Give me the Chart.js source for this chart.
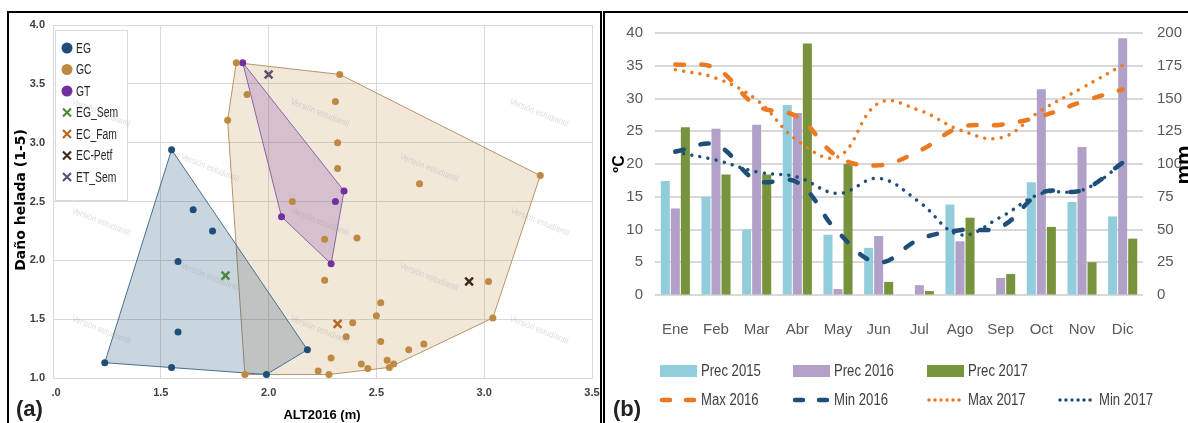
<!DOCTYPE html>
<html>
<head>
<meta charset="utf-8">
<script src="https://cdn.jsdelivr.net/npm/chart.js@4.4.1/dist/chart.umd.min.js"></script>
<style>
  html, body { margin: 0; padding: 0; background: #fff; }
  body { width: 1188px; height: 423px; overflow: hidden; position: relative; }
  .panel { position: absolute; top: 11px; border: 2px solid #000; border-bottom: none; background: #fff; }
  #panelA { left: 7px; width: 591px; height: 410px; }
  #panelB { left: 603px; width: 583px; height: 410px; border-right: none; }
  canvas { display: block; }
</style>
</head>
<body>
<div class="panel" id="panelA"><canvas id="chartA" width="591" height="410"></canvas></div>
<div class="panel" id="panelB"><canvas id="chartB" width="583" height="410"></canvas></div>
<script>
// ---- panel (a) data ----
const egX = [1.24, 1.55, 1.65, 1.74, 1.58, 1.58, 1.55, 1.99, 2.18];
const egY = [1.13, 2.94, 2.43, 2.25, 1.99, 1.39, 1.09, 1.03, 1.24];

const gcX = [1.85, 1.90, 1.81, 2.11, 2.33, 2.31, 2.32, 2.32, 2.70, 3.26, 1.89, 2.26, 2.41, 2.26, 2.52, 2.50,
             2.39, 2.36, 2.52, 2.65, 2.72, 2.29, 2.55, 2.58, 2.56, 2.43, 2.46, 2.23, 2.28, 3.02, 3.04];
const gcY = [3.68, 3.41, 3.19, 2.50, 3.58, 3.35, 3.00, 2.78, 2.65, 2.72, 1.03, 2.18, 2.19, 1.83, 1.64, 1.53,
             1.47, 1.35, 1.31, 1.24, 1.29, 1.17, 1.15, 1.12, 1.09, 1.12, 1.08, 1.06, 1.03, 1.82, 1.51];

const gtX = [1.88, 2.35, 2.31, 2.06, 2.29];
const gtY = [3.68, 2.59, 2.50, 2.37, 1.97];

const crossLabels = ["EG_Sem", "EC_Fam", "EC-Petf", "ET_Sem"];
const crossX = [1.80, 2.32, 2.93, 2.00];
const crossY = [1.87, 1.46, 1.82, 3.58];

const xTicksA = [1.0, 1.5, 2.0, 2.5, 3.0, 3.5];
const yTicksA = [1.0, 1.5, 2.0, 2.5, 3.0, 3.5, 4.0];

// ---- panel (b) data ----
const months = ["Ene", "Feb", "Mar", "Abr", "May", "Jun", "Jul", "Ago", "Sep", "Oct", "Nov", "Dic"];
const prec2015 = [87, 75, 50, 145, 46, 36, 0, 69, 0, 86, 71, 60];
const prec2016 = [66, 127, 130, 139, 4.5, 45, 7.5, 41, 13, 157, 113, 196];
const prec2017 = [128, 92, 92, 192, 100, 10, 3, 59, 16, 52, 25, 43];
const max2016 = [35.2, 34.6, 28.9, 27.2, 21.1, 19.8, 22, 25.6, 26, 27.3, 29.5, 31.4];
const min2016 = [21.9, 22.9, 17.5, 17.2, 9.6, 5.0, 8.5, 9.9, 10.4, 15.6, 16, 20.2];
const max2017 = [34.4, 33.1, 29.8, 23.6, 21.1, 29.3, 28.2, 25.2, 24.0, 28.2, 31.6, 35.1];
const min2017 = [21.8, 20.6, 18.8, 18.0, 15.5, 17.8, 14.2, 9.2, 11.9, 15.5, 16, 20.0];

const FONT = "'Liberation Sans', Arial, sans-serif";
Chart.defaults.font.family = FONT;
Chart.defaults.animation = false;

function toPts(xs, ys) {
  return xs.map((x, i) => ({ x: x, y: ys[i] }));
}

// monotone chain, returns closed ring
function convexHull(pts) {
  const p = pts.slice().sort((a, b) => a.x - b.x || a.y - b.y);
  const cross = (o, a, b) => (a.x - o.x) * (b.y - o.y) - (a.y - o.y) * (b.x - o.x);
  const lower = [];
  for (const q of p) {
    while (lower.length >= 2 && cross(lower[lower.length - 2], lower[lower.length - 1], q) <= 0) lower.pop();
    lower.push(q);
  }
  const upper = [];
  for (const q of p.slice().reverse()) {
    while (upper.length >= 2 && cross(upper[upper.length - 2], upper[upper.length - 1], q) <= 0) upper.pop();
    upper.push(q);
  }
  lower.pop();
  upper.pop();
  const h = lower.concat(upper);
  h.push(h[0]);
  return h;
}

// narrow-looking text (the source uses a condensed font)
function narrowText(ctx, text, x, y, sx) {
  ctx.save();
  ctx.translate(x, y);
  ctx.scale(sx, 1);
  ctx.fillText(text, 0, 0);
  ctx.restore();
}

const groups = [
  { label: "EG", pts: toPts(egX, egY), color: "#1F4E79", line: "#47708f", fill: "rgba(31,78,121,0.24)" },
  { label: "GC", pts: toPts(gcX, gcY), color: "#BE8A42", line: "#b89368", fill: "rgba(192,138,64,0.2)" },
  { label: "GT", pts: toPts(gtX, gtY), color: "#7030A0", line: "#8a62a6", fill: "rgba(112,48,160,0.22)" }
];
const crossColors = ["#4E8A3E", "#B8651F", "#3D2B1F", "#5E4F73"];

const datasetsA = [];
crossLabels.forEach((lab, i) => {
  datasetsA.push({
    label: lab,
    data: [{ x: crossX[i], y: crossY[i] }],
    pointStyle: "crossRot",
    pointRadius: 5.5,
    borderColor: crossColors[i],
    backgroundColor: crossColors[i],
    borderWidth: 2.5
  });
});
groups.forEach((g) => {
  datasetsA.push({
    label: g.label,
    data: g.pts,
    pointStyle: "circle",
    pointRadius: 3.5,
    backgroundColor: g.color,
    borderColor: g.color,
    borderWidth: 0
  });
});
// hulls: GT on top, GC at the bottom
[groups[2], groups[0], groups[1]].forEach((g) => {
  datasetsA.push({
    label: g.label + " hull",
    data: convexHull(g.pts),
    showLine: true,
    fill: "shape",
    pointRadius: 0,
    borderColor: g.line,
    borderWidth: 1,
    backgroundColor: g.fill
  });
});

const panelADecor = {
  id: "panelADecor",
  afterDraw(chart) {
    const ctx = chart.ctx;
    ctx.save();

    // legend box
    ctx.fillStyle = "#fff";
    ctx.fillRect(46, 17, 72, 170);
    ctx.strokeStyle = "#d9d9d9";
    ctx.lineWidth = 1;
    ctx.strokeRect(46.5, 17.5, 72, 170);
    const order = ["EG", "GC", "GT"].concat(crossLabels);
    ctx.font = "14px " + FONT;
    ctx.textBaseline = "middle";
    order.forEach((lab, i) => {
      const y = 35 + i * 21.5;
      const ds = chart.data.datasets.find((d) => d.label === lab);
      if (ds.pointStyle === "circle") {
        ctx.fillStyle = ds.backgroundColor;
        ctx.beginPath();
        ctx.arc(58, y, 5.5, 0, Math.PI * 2);
        ctx.fill();
      } else {
        ctx.strokeStyle = ds.borderColor;
        ctx.lineWidth = 2.2;
        ctx.beginPath();
        ctx.moveTo(54, y - 4); ctx.lineTo(62, y + 4);
        ctx.moveTo(62, y - 4); ctx.lineTo(54, y + 4);
        ctx.stroke();
      }
      ctx.fillStyle = "#262626";
      narrowText(ctx, lab, 67, y + 1, 0.74);
    });

    // watermarks
    ctx.fillStyle = "rgba(150,150,150,0.32)";
    ctx.font = "9px " + FONT;
    ctx.textAlign = "center";
    const marks = [[92, 100], [311, 100], [530, 100], [201, 155], [420, 155], [92, 209], [311, 209], [531, 209],
                   [201, 264], [420, 264], [92, 317], [311, 317], [530, 317]];
    marks.forEach((m) => {
      ctx.save();
      ctx.translate(m[0], m[1]);
      ctx.rotate(0.38);
      ctx.scale(0.85, 1);
      ctx.fillText("Versión estudiantil", 0, 0);
      ctx.restore();
    });

    // axis titles
    ctx.fillStyle = "#000";
    ctx.font = "bold 14px 'DejaVu Sans', sans-serif";
    ctx.textBaseline = "alphabetic";
    ctx.save();
    ctx.translate(16, 187);
    ctx.rotate(-Math.PI / 2);
    ctx.fillText("Daño helada (1-5)", 0, 0);
    ctx.restore();
    ctx.font = "bold 13px " + FONT;
    ctx.fillText("ALT2016 (m)", 313, 406);

    // (a) label
    ctx.fillStyle = "#fff";
    ctx.fillRect(0, 372, 42, 38);
    ctx.fillStyle = "#222";
    ctx.font = "bold 22px " + FONT;
    ctx.textAlign = "left";
    ctx.fillText("(a)", 7, 403);
    ctx.restore();
  }
};

new Chart(document.getElementById("chartA"), {
  type: "scatter",
  data: { datasets: datasetsA },
  options: {
    responsive: false,
    animation: false,
    layout: { padding: { top: 12, right: 8, left: 0, bottom: 0 } },
    plugins: { legend: { display: false }, tooltip: { enabled: false } },
    scales: {
      x: {
        type: "linear",
        min: xTicksA[0],
        max: xTicksA[xTicksA.length - 1],
        afterBuildTicks: (s) => { s.ticks = xTicksA.map((v) => ({ value: v })); },
        ticks: { callback: (v) => v.toFixed(1), font: { size: 11, weight: "bold" }, color: "#404040", padding: 8 },
        grid: { color: "#d9d9d9", drawTicks: false },
        border: { color: "#d9d9d9" },
        afterFit: (s) => { s.height = 45; s.paddingLeft = 0; s.paddingRight = 0; }
      },
      y: {
        type: "linear",
        min: yTicksA[0],
        max: yTicksA[yTicksA.length - 1],
        afterBuildTicks: (s) => { s.ticks = yTicksA.map((v) => ({ value: v })); },
        ticks: { callback: (v) => v.toFixed(1), font: { size: 11, weight: "bold" }, color: "#404040", padding: 8 },
        grid: { color: "#d9d9d9", drawTicks: false },
        border: { color: "#d9d9d9" },
        afterFit: (s) => { s.width = 44; s.paddingTop = 0; s.paddingBottom = 0; }
      }
    }
  },
  plugins: [panelADecor]
});

// ---- panel (b) ----
const ORANGE = "#EC7A22";
const NAVY = "#1F4E79";

const panelBDecor = {
  id: "panelBDecor",
  afterDraw(chart) {
    const ctx = chart.ctx;
    ctx.save();
    ctx.fillStyle = "#000";
    ctx.font = "bold 16px " + FONT;
    ctx.textAlign = "center";
    ctx.save();
    ctx.translate(19, 151);
    ctx.rotate(-Math.PI / 2);
    ctx.fillText("ºC", 0, 0);
    ctx.restore();
    ctx.save();
    ctx.font = "bold 22px " + FONT;
    ctx.translate(586, 152);
    ctx.rotate(-Math.PI / 2);
    ctx.fillText("mm", 0, 0);
    ctx.restore();

    // legend
    const rows = [["Prec 2015", "Prec 2016", "Prec 2017"], ["Max 2016", "Min 2016", "Max 2017", "Min 2017"]];
    const colX = [55, 188, 322, 453];
    const rowY = [358, 387];
    ctx.font = "16px " + FONT;
    ctx.textAlign = "left";
    ctx.textBaseline = "middle";
    rows.forEach((row, r) => {
      row.forEach((lab, c) => {
        const ds = chart.data.datasets.find((d) => d.label === lab);
        const x = colX[c], y = rowY[r];
        if (ds.type === "line") {
          ctx.strokeStyle = ds.borderColor;
          ctx.lineWidth = ds.borderWidth;
          ctx.lineCap = "round";
          ctx.setLineDash(ds.legendDash);
          ctx.beginPath();
          ctx.moveTo(x + 2, y);
          ctx.lineTo(x + 37, y);
          ctx.stroke();
          ctx.setLineDash([]);
        } else {
          ctx.fillStyle = ds.backgroundColor;
          ctx.fillRect(x, y - 6, 37, 12);
        }
        ctx.fillStyle = "#404040";
        narrowText(ctx, lab, x + 41, y + 1, 0.82);
      });
    });

    ctx.fillStyle = "#222";
    ctx.font = "bold 22px " + FONT;
    ctx.textBaseline = "alphabetic";
    ctx.fillText("(b)", 8, 403);
    ctx.restore();
  }
};

function barSet(label, data, color) {
  return { type: "bar", label: label, data: data, yAxisID: "y1", backgroundColor: color, order: 2,
           categoryPercentage: 0.74, barPercentage: 0.9 };
}
function lineSet(label, data, color, dotted) {
  return {
    type: "line", label: label, data: data, yAxisID: "y", borderColor: color, order: 1,
    borderWidth: dotted ? 3.5 : 4.5,
    borderDash: dotted ? [0.01, 8.3] : [8.5, 17.5],
    legendDash: dotted ? [0.01, 6] : [8, 16],
    borderCapStyle: "round",
    tension: 0.4, pointRadius: 0, fill: false
  };
}

new Chart(document.getElementById("chartB"), {
  type: "bar",
  data: {
    labels: months,
    datasets: [
      lineSet("Max 2016", max2016, ORANGE, false),
      lineSet("Min 2016", min2016, NAVY, false),
      lineSet("Max 2017", max2017, ORANGE, true),
      lineSet("Min 2017", min2017, NAVY, true),
      barSet("Prec 2015", prec2015, "#92CDDC"),
      barSet("Prec 2016", prec2016, "#B1A0C7"),
      barSet("Prec 2017", prec2017, "#77933C")
    ]
  },
  options: {
    responsive: false,
    animation: false,
    layout: { padding: { top: 20, right: 0, left: 0, bottom: 68 } },
    plugins: { legend: { display: false }, tooltip: { enabled: false } },
    scales: {
      x: {
        grid: { display: false },
        border: { display: false },
        ticks: { font: { size: 15 }, color: "#595959", padding: 18 },
        afterFit: (s) => { s.height = 60; s.paddingLeft = 0; s.paddingRight = 0; }
      },
      y: {
        position: "left",
        min: 0, max: 40,
        ticks: { stepSize: 5, font: { size: 15 }, color: "#595959", padding: 12 },
        grid: { color: "#d9d9d9", lineWidth: 2, drawTicks: false },
        border: { display: false },
        afterFit: (s) => { s.width = 50; s.paddingTop = 0; s.paddingBottom = 0; }
      },
      y1: {
        position: "right",
        min: 0, max: 200,
        ticks: { stepSize: 25, font: { size: 15 }, color: "#595959", padding: 14 },
        grid: { drawOnChartArea: false, drawTicks: false },
        border: { display: false },
        afterFit: (s) => { s.width = 45; s.paddingTop = 0; s.paddingBottom = 0; }
      }
    }
  },
  plugins: [panelBDecor]
});
</script>
</body>
</html>
